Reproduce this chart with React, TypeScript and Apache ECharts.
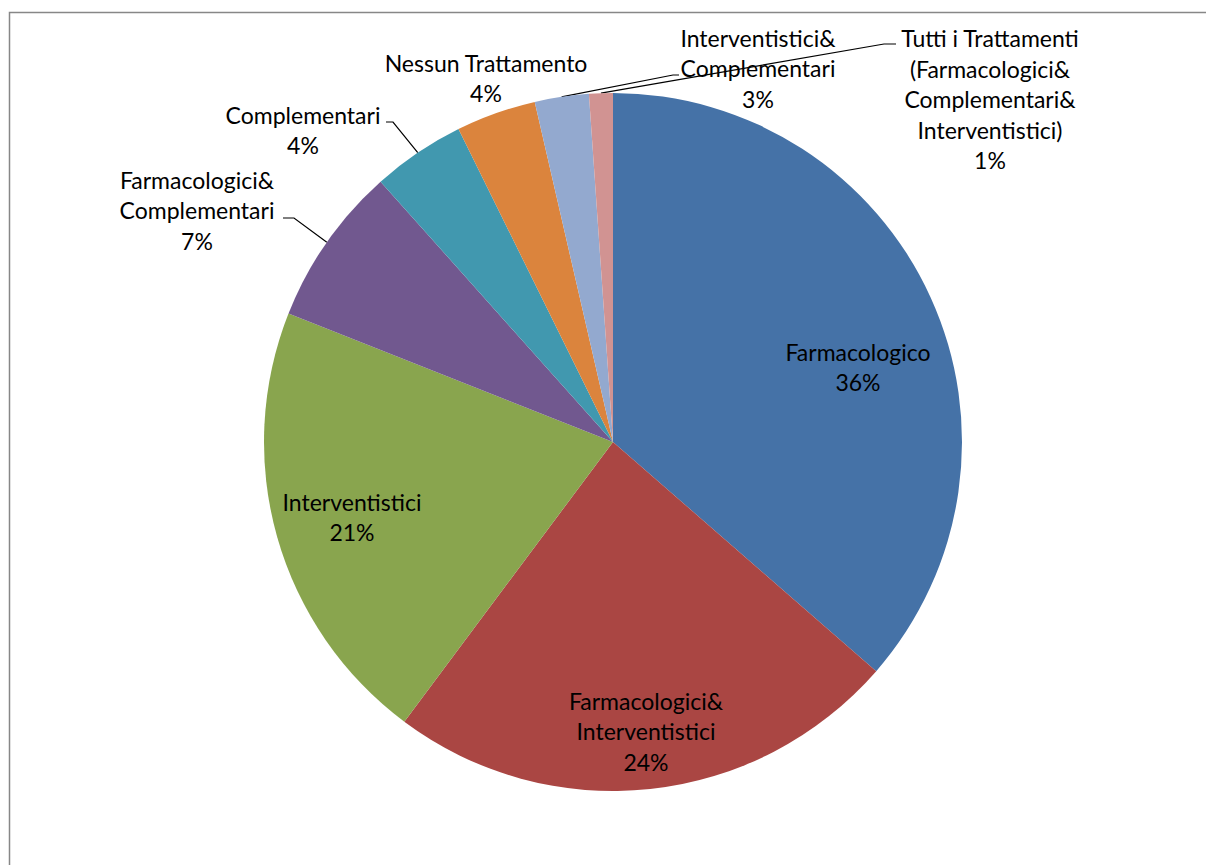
import React, { useEffect, useRef } from "react";
import * as echarts from "echarts";

const categories = [
  "Farmacologico",
  "Farmacologici&\nInterventistici",
  "Interventistici",
  "Farmacologici&\nComplementari",
  "Complementari",
  "Nessun Trattamento",
  "Interventistici&\nComplementari",
  "Tutti i Trattamenti\n(Farmacologici&\nComplementari&\nInterventistici)",
];
const values = [36.4, 23.8, 20.8, 7.4, 4.3, 3.7, 2.5, 1.1];
const colors = ["#4572A7", "#AA4643", "#89A54E", "#71588F", "#4198AF", "#DB843D", "#93A9CF", "#D19392"];

// label centres (px) and leader-line bends
const labelPos: [number, number][] = [
  [858, 367],
  [646, 731],
  [352, 517],
  [197, 210],
  [303, 130],
  [486, 78],
  [758, 68],
  [990, 99],
];
const leaderBend: ([number, number][] | null)[] = [
  null,
  null,
  null,
  [[294, 218], [283, 218]],
  [[393, 122], [386, 122]],
  null,
  [[673, 75], [679, 75]],
  [[884, 44], [896, 44]],
];

export default function App() {
  const ref = useRef<HTMLDivElement>(null);
  useEffect(() => {
    const chart = echarts.init(ref.current!, null, { renderer: "svg" });
    const total = values.reduce((a, b) => a + b, 0);
    chart.setOption({
      animation: false,
      backgroundColor: "#ffffff",
      graphic: [
        {
          type: "rect",
          shape: { x: 9.5, y: 12.5, width: 1300, height: 1000 },
          style: { fill: "none", stroke: "#878787", lineWidth: 1.5 },
          silent: true,
        },
      ],
      series: [
        {
          type: "pie",
          center: [613, 442],
          radius: 349,
          startAngle: 90,
          clockwise: true,
          avoidLabelOverlap: false,
          itemStyle: { borderWidth: 0 },
          label: {
            show: true,
            position: "outside",
            fontFamily: "Lato",
            fontSize: 23,
            lineHeight: 30.5,
            color: "#000",
            align: "center",
            formatter: (p: any) => `${p.name}\n${Math.round((p.value / total) * 100)}%`,
          },
          labelLine: {
            show: true,
            length: 10,
            length2: 10,
            lineStyle: { color: "#000", width: 1.2 },
          },
          labelLayout: (params: any) => {
            const i = params.dataIndex;
            const [lx, ly] = labelPos[i];
            const res: any = { x: lx, y: ly, align: "center", verticalAlign: "middle" };
            const bend = leaderBend[i];
            if (bend && params.labelLinePoints) {
              res.labelLinePoints = [params.labelLinePoints[0], bend[0], bend[1]];
            }
            return res;
          },
          data: categories.map((name, i) => ({
            name,
            value: values[i],
            itemStyle: { color: colors[i] },
            labelLine: { show: leaderBend[i] !== null },
          })),
        },
      ],
    });
    return () => chart.dispose();
  }, []);
  return (
    <div
      ref={ref}
      style={{ position: "fixed", left: 0, top: 0, width: 1206, height: 865 }}
    />
  );
}
